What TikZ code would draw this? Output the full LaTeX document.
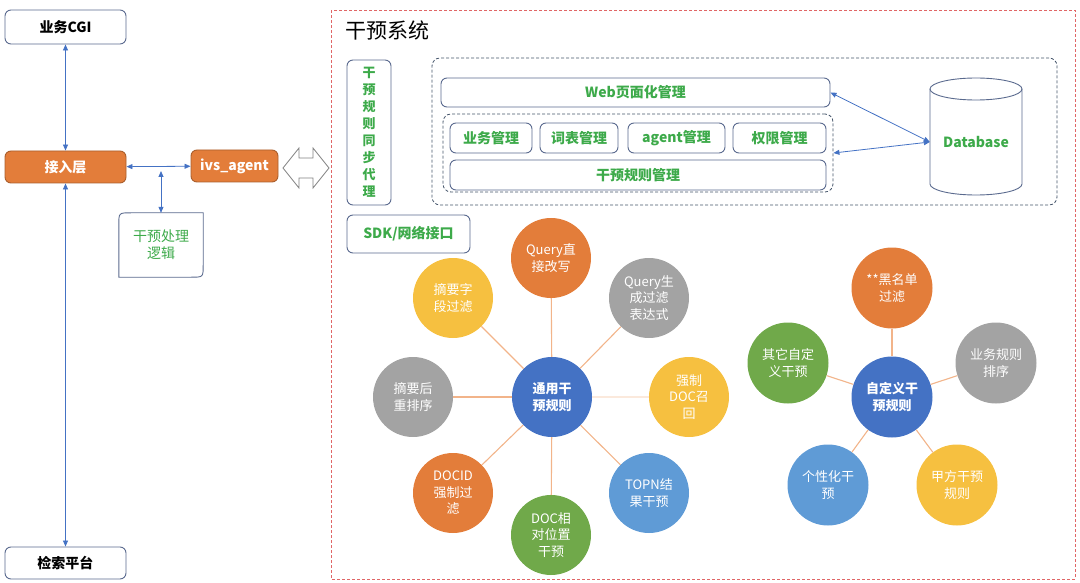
\documentclass[tikz,border=0pt]{standalone}
\usepackage{fontspec}
\setmainfont{Noto Sans CJK SC}
\usepackage{tikz}
\usetikzlibrary{arrows.meta,calc}
\definecolor{linkblue}{HTML}{4472C4}
\definecolor{framegray}{HTML}{5A6A8E}
\definecolor{labelgreen}{HTML}{3DAA4A}
\definecolor{hubblue}{HTML}{4472C4}
\definecolor{satorange}{HTML}{E37D3A}
\definecolor{satgray}{HTML}{A3A3A3}
\definecolor{satyellow}{HTML}{F6C040}
\definecolor{satgreen}{HTML}{70A94A}
\definecolor{satsky}{HTML}{5F9BD6}
\definecolor{spokeorange}{HTML}{F2B48A}
\definecolor{framered}{HTML}{E06666}
\definecolor{dashnavy}{HTML}{44546A}

\begin{document}
\begin{tikzpicture}[x=1pt, y=-1pt,
  box/.style={draw=framegray, line width=0.9pt, rounded corners=6pt, fill=white, inner sep=0pt,
    align=center, font=\bfseries\fontsize{14}{17}\selectfont},
  greenbox/.style={box, text=labelgreen},
  orangebox/.style={box, fill=satorange, draw=satorange!75!black, text=white, minimum height=32},
  dashbox/.style={draw=dashnavy, dash pattern=on 3pt off 2pt, rounded corners=8pt, line width=0.8pt, inner sep=0pt},
  biarrow/.style={{Triangle[length=6pt,width=5pt]}-{Triangle[length=6pt,width=5pt]}, linkblue, line width=0.8pt},
  bubble/.style={circle, minimum size=80, inner sep=0pt, text=white, align=center, font=\fontsize{13}{16.5}\selectfont},
  hub/.style={bubble, fill=hubblue, font=\bfseries\fontsize{13}{17}\selectfont},
  spoke/.style={line width=1.1pt}]
\useasboundingbox (0,0) rectangle (1080,583);

% left column
\node[box, minimum width=121, minimum height=34] (cgi) at (65.5,27) {业务CGI};
\node[orangebox, minimum width=121] (access) at (65.5,167) {接入层};
\node[orangebox, minimum width=87] (agent) at (234.5,166) {ivs\_agent};
\node[box, minimum width=121, minimum height=32] (search) at (65.5,563) {检索平台};
\node[text=labelgreen, minimum width=84, minimum height=64, inner sep=0pt, align=center,
  font=\fontsize{14}{17}\selectfont] (proc) at (161,245) {干预处理\\逻辑};
\draw[framegray, line width=0.9pt] (proc.south west) -- ($(proc.north west)+(0,12)$)
  .. controls (proc.north west) .. ($(proc.north west)+(12,0)$) -- (proc.north east)
  -- ($(proc.south east)+(0,-12)$) .. controls (proc.south east) .. ($(proc.south east)+(-12,0)$) -- cycle;
\coordinate (junc) at (proc.north |- access.east);

\draw[biarrow] (cgi) -- (access);
\draw[biarrow] (access) -- (search);
\draw[biarrow] (access) -- (agent);
\draw[biarrow, shorten <=4pt] (junc) -- (proc.north);

\draw[satgray!80!black, line width=0.8pt, fill=white] (283,168) -- (299,148) -- (299,158) -- (313,158)
  -- (313,148) -- (329,168) -- (313,188) -- (313,178) -- (299,178) -- (299,188) -- cycle;

% intervention system
\draw[framered, line width=0.8pt, dash pattern=on 3pt off 2pt] (331,10) rectangle (1075,579);
\node[anchor=west, inner sep=0pt, font=\fontsize{21}{21}\selectfont] (title) at (345,30) {干预系统};
\node[greenbox, minimum width=44, minimum height=145, font=\bfseries\fontsize{13}{17}\selectfont] (sync)
  at (369,132.5) {干\\预\\规\\则\\同\\步\\代\\理};
\node[dashbox, minimum width=625, minimum height=147] (mgmt) at (744.5,131.5) {};
\node[greenbox, minimum width=389, minimum height=29] (web) at (635.5,92.5) {Web页面化管理};
\node[dashbox, minimum width=390, minimum height=78] (inner) at (638,153) {};
\node[greenbox, minimum width=82, minimum height=30] (biz) at (491,138) {业务管理};
\node[greenbox, minimum width=78, minimum height=30] (dict) at (579,138) {词表管理};
\node[greenbox, minimum width=97, minimum height=30] (agm) at (676.5,138) {agent管理};
\node[greenbox, minimum width=93, minimum height=30] (auth) at (779.5,138) {权限管理};
\node[greenbox, minimum width=376, minimum height=30] (rule) at (638,175) {干预规则管理};

\draw[framegray, line width=0.9pt, fill=white] (930,89) -- (930,184)
  arc[start angle=180, end angle=0, x radius=46, y radius=11] -- (1022,89);
\draw[framegray, line width=0.9pt] (976,89) ellipse[x radius=46, y radius=11];
\node[text=labelgreen, minimum width=92, minimum height=117, inner sep=0pt,
  font=\bfseries\fontsize{14}{17}\selectfont] (db) at (976,142) {Database};
\draw[biarrow] (web.east) -- (db.west);
\draw[biarrow] (inner.east) -- (db.west);

\node[greenbox, minimum width=123, minimum height=38] (sdk) at (408.5,234) {SDK/网络接口};

% general rules
\node[hub] (gen) at (552,397) {通用干\\预规则};
\foreach \pos/\col/\sp/\txt [count=\i] in {
  {(551,258)}/satorange/spokeorange/{Query直\\接改写},
  {(649,298)}/satgray/spokeorange/{Query生\\成过滤\\表达式},
  {(689,397)}/satyellow/spokeorange!30/{强制\\DOC召\\回},
  {(649,493)}/satsky/spokeorange/{TOPN结\\果干预},
  {(551,535)}/satgreen/spokeorange/{DOC相\\对位置\\干预},
  {(453,493)}/satorange/spokeorange/{DOCID\\强制过\\滤},
  {(413,397)}/satgray/spokeorange/{摘要后\\重排序},
  {(453,298)}/satyellow/spokeorange/{摘要字\\段过滤}} {
  \node[bubble, fill=\col] (gen\i) at \pos {\txt};
  \draw[spoke, \sp] (gen) -- (gen\i);
}

% custom rules
\node[hub, minimum size=81] (cus) at (892,397) {自定义干\\预规则};
\foreach \pos/\col/\txt [count=\i] in {
  {(892,288)}/satorange/{**黑名单\\过滤},
  {(996,363)}/satgray/{业务规则\\排序},
  {(957,485)}/satyellow/{甲方干预\\规则},
  {(828,485)}/satsky/{个性化干\\预},
  {(788,363)}/satgreen/{其它自定\\义干预}} {
  \node[bubble, minimum size=81, fill=\col] (cus\i) at \pos {\txt};
  \draw[spoke, spokeorange] (cus) -- (cus\i);
}
\end{tikzpicture}
\end{document}
